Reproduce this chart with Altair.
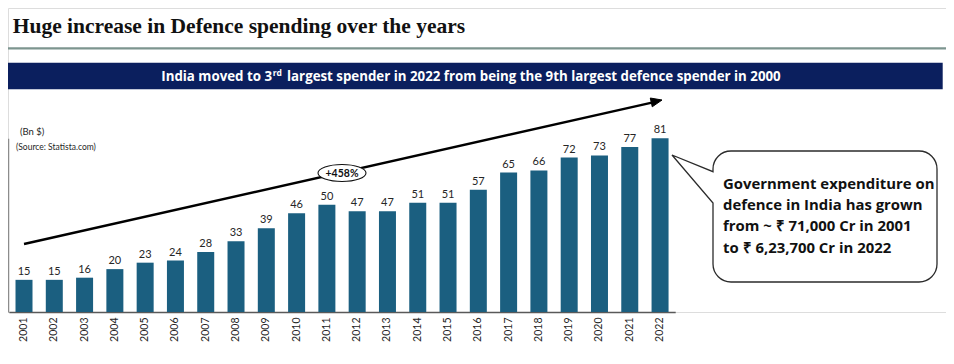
import altair as alt
import pandas as pd

# ---------------- data ----------------
years = [str(y) for y in range(2001, 2023)]
spend = [15, 15, 16, 20, 23, 24, 28, 33, 39, 46, 50, 47, 47, 51, 51, 57, 65, 66, 72, 73, 77, 81]

title_text = "Huge increase in Defence spending over the years"
banner_left = "India moved to 3"
banner_sup = "rd"
banner_rest = "largest spender in 2022 from being the 9th largest defence spender in 2000"
unit_text = "(Bn $)"
source_text = "(Source: Statista.com)"
growth_text = "+458%"
callout_lines = [
    "Government expenditure on",
    "defence in India has grown",
    "from ~ \u20b9 71,000 Cr in 2001",
    "to \u20b9 6,23,700 Cr in 2022",
]

W, H = 938, 304
FONT = "Lato"
BFONT = "Open Sans"
BAR = "#1b5f80"
NAVY = "#0b1f5e"

df = pd.DataFrame({"year": years, "value": spend})

xenc = alt.X(
    "year:O",
    sort=years,
    scale=alt.Scale(range=[0.86, 667.2], paddingInner=0.44, paddingOuter=0.22),
    axis=alt.Axis(
        title=None, ticks=False, labelAngle=270, labelPadding=5,
        labelFont=FONT, labelFontSize=10.5, labelColor="#262626",
        domainColor="#595959", domainWidth=1.5, grid=False,
    ),
)
yenc = alt.Y(
    "value:Q",
    scale=alt.Scale(domain=[0, 81], nice=False, zero=True, range=[304, 130.3]),
    axis=alt.Axis(
        title=None, ticks=False, labels=False, grid=False,
        domainColor="#8c8c8c", domainWidth=1.5,
    ),
)

bars = alt.Chart(df).mark_bar(color=BAR, size=17).encode(x=xenc, y=yenc)
labels = alt.Chart(df).mark_text(
    baseline="alphabetic", dy=-5, font=FONT, fontSize=11, color="#262626"
).encode(x=alt.X("year:O", sort=years), y="value:Q", text="value:Q")


def one(text):
    return pd.DataFrame({"t": [text]})


title = alt.Chart(one(title_text)).mark_text(
    align="left", baseline="alphabetic", font="Liberation Serif",
    fontWeight="bold", fontSize=21.5, color="#111111"
).encode(x=alt.value(4.7), y=alt.value(25), text="t:N")

title_rule = alt.Chart(one("")).mark_rule(color="#7d958f", strokeWidth=2.2).encode(
    x=alt.value(0), x2=alt.value(W), y=alt.value(40.3)
)

banner = alt.Chart(one("")).mark_rect(color=NAVY).encode(
    x=alt.value(0), x2=alt.value(934.7), y=alt.value(54.7), y2=alt.value(81.3)
)
b1 = alt.Chart(one(banner_left)).mark_text(
    align="right", baseline="alphabetic", font=BFONT, fontWeight="bold",
    fontSize=13.3, color="white"
).encode(x=alt.value(264), y=alt.value(72.9), text="t:N")
b2 = alt.Chart(one(banner_sup)).mark_text(
    align="left", baseline="alphabetic", font=BFONT, fontWeight="bold",
    fontSize=8.5, color="white"
).encode(x=alt.value(264.7), y=alt.value(67.5), text="t:N")
b3 = alt.Chart(one(banner_rest)).mark_text(
    align="left", baseline="alphabetic", font=BFONT, fontWeight="bold",
    fontSize=13.3, color="white"
).encode(x=alt.value(279), y=alt.value(72.9), text="t:N")

unit = alt.Chart(one(unit_text)).mark_text(
    align="left", baseline="alphabetic", font=FONT, fontSize=9.5, color="#262626"
).encode(x=alt.value(12), y=alt.value(126.5), text="t:N")
source = alt.Chart(one(source_text)).mark_text(
    align="left", baseline="alphabetic", font=FONT, fontSize=8.5, color="#262626"
).encode(x=alt.value(8), y=alt.value(141.5), text="t:N")

# growth arrow
arrow_line = alt.Chart(one("")).mark_rule(color="black", strokeWidth=2.4).encode(
    x=alt.value(16), y=alt.value(236), x2=alt.value(645), y2=alt.value(94.4)
)
arrow_head = alt.Chart(one("")).mark_point(
    shape="M 0 0 L -9.74 6.8 L -11.72 -1.98 Z", size=4, filled=True,
    fill="black", stroke="black", strokeWidth=1, opacity=1
).encode(x=alt.value(654), y=alt.value(92))

ellipse = alt.Chart(one("")).mark_point(
    shape=("M -24 0 C -24 -4.69 -13.25 -8.5 0 -8.5 C 13.25 -8.5 24 -4.69 24 0 "
           "C 24 4.69 13.25 8.5 0 8.5 C -13.25 8.5 -24 4.69 -24 0 Z"),
    size=4, filled=True, fill="white", stroke="#111111", strokeWidth=1.1, opacity=1
).encode(x=alt.value(334), y=alt.value(165))
growth = alt.Chart(one(growth_text)).mark_text(
    align="center", baseline="middle", font=FONT, fontWeight="bold",
    fontSize=10.5, color="#111111"
).encode(x=alt.value(334), y=alt.value(165.5), text="t:N")

# callout bubble
w, h, r = 224, 131, 18
k = r * 0.5523
bubble_path = (
    f"M {r} 0 L {w - r} 0 C {w - r + k} 0 {w} {r - k} {w} {r} "
    f"L {w} {h - r} C {w} {h - r + k} {w - r + k} {h} {w - r} {h} "
    f"L {r} {h} C {r - k} {h} 0 {h - r + k} 0 {h - r} "
    f"L 0 52 L -41 4 L 0 20.7 "
    f"L 0 {r} C 0 {r - k} {r - k} 0 {r} 0 Z"
)
bubble = alt.Chart(one("")).mark_point(
    shape=bubble_path, size=4, filled=True, fill="white",
    stroke="#2b2b2b", strokeWidth=1.3, opacity=1
).encode(x=alt.value(705), y=alt.value(143))
callout = alt.Chart(pd.DataFrame({"t": [callout_lines]})).mark_text(
    align="left", baseline="alphabetic", font=BFONT, fontWeight="bold",
    fontSize=14.9, lineHeight=21.2, color="#111111"
).encode(x=alt.value(715), y=alt.value(181), text="t")

chart = alt.layer(
    title_rule, title, banner, b1, b2, b3, unit, source,
    bars, labels, arrow_line, arrow_head, ellipse, growth, bubble, callout
).properties(
    width=W, height=H,
    autosize=alt.AutoSizeParams(type="none"),
    padding={"left": 0, "top": 0, "right": 0, "bottom": 44},
).configure_view(stroke=None).configure(background="white")

chart.save("out.html", embed_options={"renderer": "svg", "actions": False})
